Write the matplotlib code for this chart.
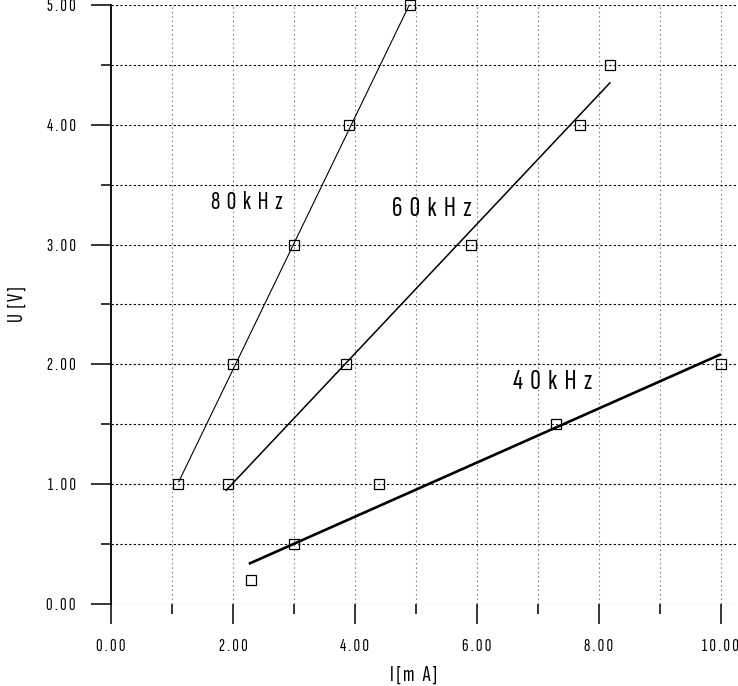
import matplotlib
matplotlib.use("Agg")
import matplotlib.pyplot as plt
from matplotlib.ticker import FixedLocator, FixedFormatter

# ---- data ----
x80 = [1.1, 2.0, 3.0, 3.9, 4.9]
y80 = [1.0, 2.0, 3.0, 4.0, 5.0]
fit80_x = [1.11, 4.89]
fit80_y = [1.02, 5.0]

x60 = [1.92, 3.85, 5.9, 7.69, 8.18]
y60 = [1.0, 2.0, 3.0, 4.0, 4.5]
fit60_x = [1.89, 8.18]
fit60_y = [0.95, 4.35]

x40 = [2.3, 3.0, 4.39, 7.3, 10.0]
y40 = [0.2, 0.5, 1.0, 1.5, 2.0]
fit40_x = [2.28, 9.98]
fit40_y = [0.34, 2.08]

xticks = [0, 2, 4, 6, 8, 10]
xtick_labels = ["0 . 0 0", "2 . 0 0", "4 . 0 0", "6 . 0 0", "8 . 0 0", "1 0 . 0 0"]
yticks = [0, 1, 2, 3, 4, 5]
ytick_labels = ["0 . 0 0", "1 . 0 0", "2 . 0 0", "3 . 0 0", "4 . 0 0", "5 . 0 0"]

FONT = ["Sofia Sans Extra Condensed", "DejaVu Sans"]
plt.rcParams['font.family'] = FONT

fig = plt.figure(figsize=(7.38, 6.86), dpi=100)
W, H = 738, 686
ax = fig.add_axes([111 / W, (H - 604) / H, 627 / W, 599 / H])
ax.set_xlim(0, 10.28)
ax.set_ylim(0, 5)

for s in ["top", "right", "bottom"]:
    ax.spines[s].set_visible(False)
ax.spines["left"].set_linewidth(1.3)

ax.xaxis.set_major_locator(FixedLocator(xticks))
ax.xaxis.set_major_formatter(FixedFormatter(xtick_labels))
ax.xaxis.set_minor_locator(FixedLocator([1, 3, 5, 7, 9]))
ax.yaxis.set_major_locator(FixedLocator(yticks))
ax.yaxis.set_major_formatter(FixedFormatter(ytick_labels))
ax.yaxis.set_minor_locator(FixedLocator([0.5, 1.5, 2.5, 3.5, 4.5]))

ax.tick_params(axis="both", which="major", length=14.4, width=1.1, direction="out",
               labelsize=13, colors="black")
ax.tick_params(axis="both", which="minor", length=7.2, width=1.1, direction="out")
ax.tick_params(axis="x", which="major", pad=11)
ax.tick_params(axis="y", which="major", pad=11)

ax.grid(True, axis="y", which="both", color="black", linestyle=(0, (2, 2)), linewidth=0.8)
ax.grid(True, axis="x", which="both", color="#888888", linestyle=(0, (1.5, 2.5)), linewidth=0.8)
ax.set_axisbelow(True)

mk = dict(marker="s", markersize=7.5, markerfacecolor="none", markeredgecolor="black",
          markeredgewidth=0.9, linestyle="none", clip_on=False, zorder=4)
ax.plot(x80, y80, **mk)
ax.plot(x60, y60, **mk)
ax.plot(x40, y40, **mk)

ax.plot(fit80_x, fit80_y, color="black", linewidth=0.8, zorder=3, clip_on=False)
ax.plot(fit60_x, fit60_y, color="black", linewidth=1.1, zorder=3, clip_on=False)
ax.plot(fit40_x, fit40_y, color="black", linewidth=1.9, zorder=3, clip_on=False)

ax.text(1.64, 3.35, "8  0  k  H  z", fontsize=19, va="center", ha="left")
ax.text(4.6, 3.3, "6  0  k  H  z", fontsize=21, va="center", ha="left")
ax.text(6.59, 1.85, "4  0  k  H  z", fontsize=21, va="center", ha="left")

ax.set_xlabel("I [ m   A ]", fontsize=16)
ax.xaxis.set_label_coords(0.482, -0.1185)
ax.xaxis.label.set_va("center")
ax.set_ylabel("U  [ V ]", fontsize=16)
ax.yaxis.set_label_coords(-0.15, 0.5)
ax.yaxis.label.set_va("center")

fig.savefig("out.png", dpi=100)
